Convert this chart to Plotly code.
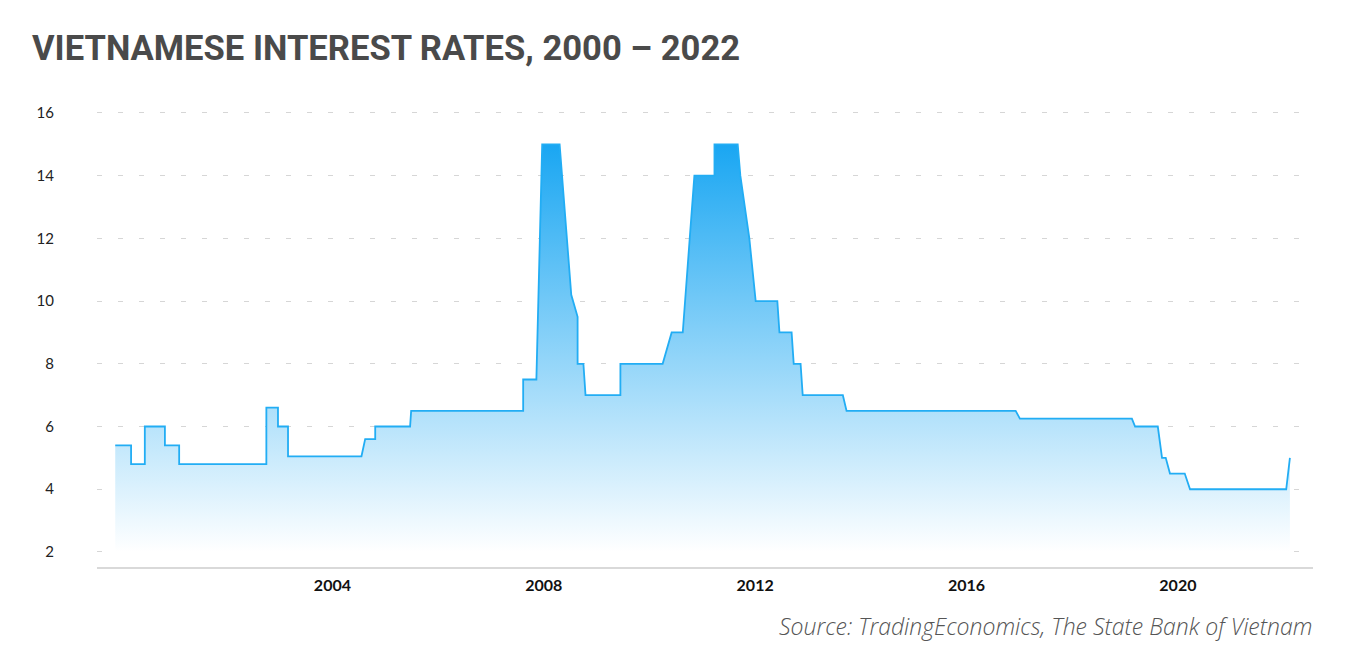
import plotly.graph_objects as go

# Decimal-year positions and policy rate values (%)
years = [1999.89, 2000.19, 2000.19, 2000.45, 2000.45, 2000.83, 2000.83, 2001.10, 2001.10,
         2002.75, 2002.75, 2002.97, 2002.97, 2003.16, 2003.16, 2004.55, 2004.62, 2004.81,
         2004.81, 2005.47, 2005.49, 2007.61, 2007.61, 2007.86, 2007.97, 2008.30, 2008.52,
         2008.64, 2008.64, 2008.75, 2008.79, 2009.45, 2009.45, 2010.25, 2010.42, 2010.63,
         2010.85, 2011.23, 2011.23, 2011.67, 2011.72, 2011.89, 2012.01, 2012.42, 2012.46,
         2012.69, 2012.73, 2012.86, 2012.90, 2013.66, 2013.73, 2016.93, 2017.01, 2019.13,
         2019.19, 2019.62, 2019.70, 2019.77, 2019.85, 2020.13, 2020.23, 2022.05, 2022.12]
rates = [5.4, 5.4, 4.8, 4.8, 6.0, 6.0, 5.4, 5.4, 4.8,
         4.8, 6.6, 6.6, 6.0, 6.0, 5.05, 5.05, 5.6, 5.6,
         6.0, 6.0, 6.5, 6.5, 7.5, 7.5, 15.0, 15.0, 10.2,
         9.5, 8.0, 8.0, 7.0, 7.0, 8.0, 8.0, 9.0, 9.0,
         14.0, 14.0, 15.0, 15.0, 14.0, 12.0, 10.0, 10.0, 9.0,
         9.0, 8.0, 8.0, 7.0, 7.0, 6.5, 6.5, 6.25, 6.25,
         6.0, 6.0, 5.0, 5.0, 4.5, 4.5, 4.0, 4.0, 5.0]

x_ticks = [2004, 2008, 2012, 2016, 2020]
x_tick_labels = ["2004", "2008", "2012", "2016", "2020"]
y_ticks = [2, 4, 6, 8, 10, 12, 14, 16]

title_text = "VIETNAMESE INTEREST RATES, 2000 – 2022"
source_text = "Source: TradingEconomics, The State Bank of Vietnam"

fig = go.Figure()
fig.add_trace(go.Scatter(
    x=years, y=rates, mode="lines",
    line=dict(color="#22adf4", width=1.8),
    fill="tozeroy",
    fillgradient=dict(type="vertical",
                      colorscale=[[0, "rgba(255,255,255,1)"], [1, "#16a5f2"]],
                      start=2, stop=15.2),
    hoverinfo="x+y", showlegend=False,
))

fig.update_layout(
    width=1350, height=655,
    paper_bgcolor="white", plot_bgcolor="white",
    margin=dict(l=89, r=45, t=99, b=96),
    font=dict(family="Lato, Inter, sans-serif", color="#222222"),
    xaxis=dict(range=[1999.545, 2022.557], tickvals=x_ticks, ticktext=x_tick_labels,
               showgrid=False, zeroline=False, showline=True, linecolor="#d9d9d9",
               linewidth=2, ticks="", ticklabelstandoff=3,
               tickfont=dict(size=16, color="#111111", weight=700)),
    yaxis=dict(range=[1.52, 16.19], tickvals=y_ticks, showgrid=True,
               gridcolor="#d6d6d6", gridwidth=1, griddash="5px,16px",
               zeroline=False, showline=False, ticks="", ticklabelstandoff=42,
               tickfont=dict(size=15, color="#222222")),
    annotations=[
        dict(text=title_text, xref="paper", yref="paper", x=-0.055, y=1.128,
             xanchor="left", yanchor="middle", showarrow=False,
             font=dict(family="Roboto, sans-serif", size=34.6, color="#4a4a4a", weight=700)),
        dict(text=source_text, xref="paper", yref="paper", x=1.001, y=-0.128,
             xanchor="right", yanchor="middle", showarrow=False,
             font=dict(family="Open Sans, sans-serif", size=23, color="#555555",
                       weight=300, style="italic")),
    ],
)

fig.write_html("out.html")
